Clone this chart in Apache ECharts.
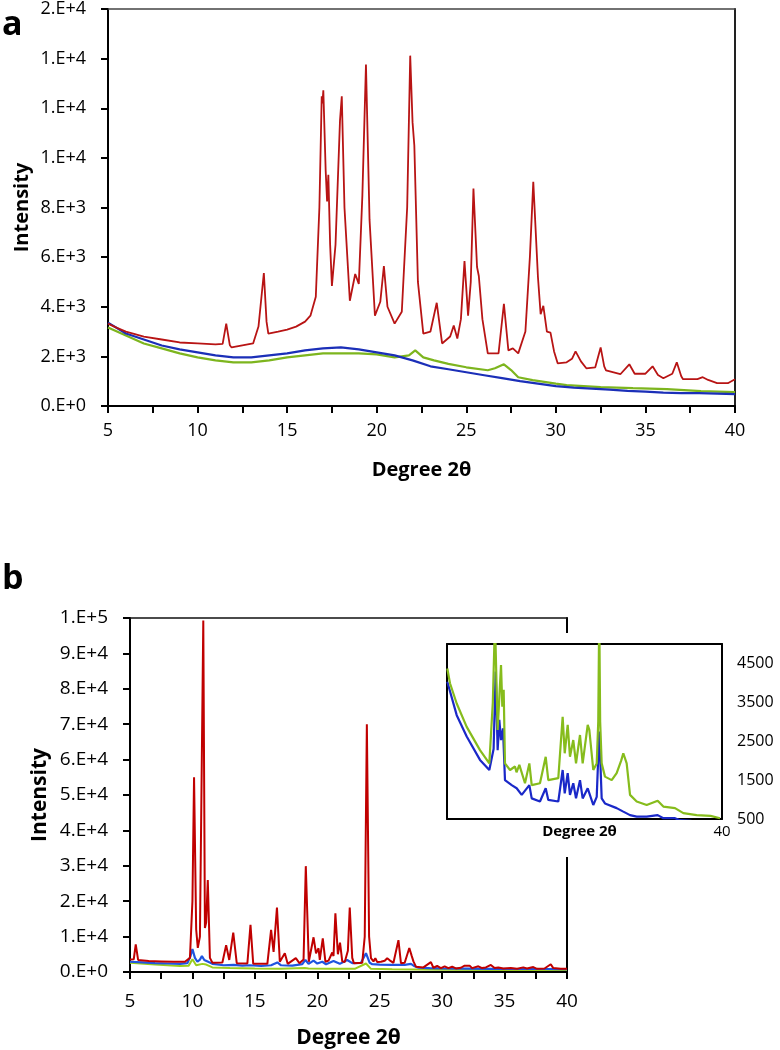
<!DOCTYPE html>
<html>
<head>
<meta charset="utf-8">
<script src="https://cdn.jsdelivr.net/npm/echarts@6/dist/echarts.min.js"></script>
<style>
html,body{margin:0;padding:0;background:#fff;}
#chart{width:780px;height:1050px;}
</style>
</head>
<body>
<div id="chart"></div>
<script>
// ---------- Panel a (Degree 2θ vs Intensity) ----------
const redA_x = [5.0,5.5,6.0,7.0,8.0,9.0,10.0,11.0,11.4,11.6,11.8,11.9,12.5,13.1,13.4,13.7,13.85,13.95,14.5,15.0,15.5,16.0,16.3,16.6,16.8,16.93,16.97,17.02,17.15,17.23,17.3,17.4,17.5,17.7,17.95,18.05,18.2,18.5,18.8,19.0,19.2,19.4,19.6,19.9,20.2,20.4,20.6,21.0,21.4,21.7,21.87,22.0,22.1,22.3,22.6,23.0,23.35,23.65,24.1,24.3,24.5,24.7,24.9,25.1,25.25,25.4,25.6,25.7,25.9,26.2,26.8,27.1,27.35,27.6,27.9,28.3,28.55,28.74,29.0,29.15,29.3,29.5,29.7,29.9,30.1,30.6,30.9,31.1,31.4,31.7,32.2,32.5,32.7,32.8,33.6,34.1,34.4,34.5,35.0,35.4,35.7,36.0,36.5,36.75,37.0,37.1,37.9,38.2,38.5,39.0,39.6,40.0];
const redA_y = [3320,3150,3000,2800,2680,2560,2520,2480,2500,3320,2450,2360,2440,2520,3200,5360,3400,2920,3000,3080,3200,3400,3640,4400,8000,12480,12200,12720,9500,8240,9320,6500,4840,6500,11500,12480,8000,4240,5320,4920,8500,13760,7500,3640,4200,5640,4000,3320,3800,8000,14120,11440,10500,5000,2920,3000,4160,2520,2800,3240,2720,3500,5840,3640,5000,8760,5600,5240,3500,2120,2120,4120,2240,2320,2120,3000,6000,9040,5200,3700,4040,3000,2960,2200,1720,1760,1900,2200,1800,1520,1560,2360,1600,1440,1280,1680,1300,1240,1300,1600,1250,1120,1300,1760,1200,1080,1080,1160,1050,920,920,1080];
const blueA_x = [5,6,7,8,9,10,11,12,13,14,15,16,17,18,19,20,21,22,23,24,25,26,27,28,29,30,31,32,33,34,35,36,37,38,39,40];
const blueA_y = [3360,2920,2680,2440,2280,2160,2040,1960,1960,2040,2120,2240,2320,2360,2280,2160,2040,1840,1600,1480,1360,1240,1120,1000,900,800,740,700,660,610,580,540,520,520,500,480];
const greenA_x = [5,6,7,8,9,10,11,12,13,14,15,16,17,18,19,20,21,21.8,22.15,22.6,23.2,24,25,26.2,26.6,27.1,27.5,27.9,28.7,30,30.6,32.5,34.3,36.2,38.1,40];
const greenA_y = [3160,2840,2520,2320,2120,1960,1840,1760,1760,1840,1960,2040,2120,2120,2120,2080,1960,2040,2240,1960,1840,1700,1560,1440,1520,1680,1450,1160,1040,900,840,760,720,680,600,560];

// ---------- Panel b ----------
const redB_x = [5.0,5.3,5.46,5.65,6.5,7.5,8.5,9.4,9.8,10.0,10.13,10.3,10.43,10.6,10.87,11.0,11.1,11.23,11.4,11.6,12.4,12.7,12.95,13.27,13.55,14.4,14.65,14.87,16.0,16.3,16.5,16.77,17.0,17.4,17.63,18.28,18.57,18.9,19.08,19.32,19.7,19.9,20.1,20.2,20.44,20.65,20.9,21.2,21.3,21.45,21.65,21.82,22.0,22.2,22.45,22.6,22.8,22.93,23.6,23.8,23.97,24.15,24.3,24.5,24.65,24.8,25.1,25.4,25.6,25.8,26.1,26.5,26.7,27.0,27.37,27.55,27.7,27.9,28.5,29.1,29.3,29.6,29.9,30.2,30.5,30.8,31.1,31.5,31.8,32.2,32.4,32.9,33.2,33.5,33.9,34.2,34.5,34.9,35.5,36.0,36.5,36.8,37.3,37.6,38.2,38.7,38.9,39.5,40.0];
const redB_y = [3500,3600,7800,3400,3100,3000,2900,2900,4000,20000,55000,12000,6800,10000,99300,12400,14000,26000,4000,2600,2700,7600,3400,11100,2500,2400,13300,2300,2300,11900,5700,18200,2900,5300,2300,3900,2500,3500,29900,2900,9800,5300,6700,3400,9500,2900,3200,5500,4500,16600,5000,8300,3000,2800,6000,18200,4000,2500,2600,10000,70000,10000,3900,3000,3900,2800,2900,3200,3900,3300,2600,9000,2500,2600,6800,4700,3000,1500,1300,2800,1200,1700,1100,1600,1100,1500,1000,1200,1800,1800,1100,1600,1100,1300,2000,1100,1300,1000,1100,900,1300,1000,1400,900,1000,2200,1100,900,900];
const blueB_x = [5,6,7,8,9,9.6,9.85,10.0,10.2,10.4,10.6,10.76,10.95,11.1,11.3,11.6,12.5,13.3,14,14.6,15.5,16.3,16.8,17.1,18,18.8,19.05,19.3,19.7,20.0,20.4,20.7,21.3,21.8,22.4,22.8,23.5,23.9,24.2,24.4,25,26,27,27.5,27.8,28.1,29,30,32,34,36,38,40];
const blueB_y = [2900,2700,2500,2400,2300,2500,4500,6500,4000,2900,3500,4500,3400,3900,2800,2300,1900,2000,1800,1900,1700,1900,2700,1900,1800,2200,3400,2300,3200,2400,2900,2200,3100,2300,3400,2500,2600,5300,2600,2200,2100,2000,2000,2300,1600,1200,1100,1000,950,900,850,850,800];
const greenB_x = [5,7,9,9.7,10.0,10.3,10.8,11.1,11.6,13,15,17,19,19.05,19.3,21,23,23.9,24.3,26,28,30,34,40];
const greenB_y = [2600,2100,1700,1800,3600,1900,2300,2100,1300,1100,1000,950,1100,1500,1000,900,900,2400,900,800,700,650,600,550];

// ---------- Inset of panel b ----------
const greenIn_x = [4.04,4.39,5.27,6.58,8.32,9.54,10.0,10.28,10.63,11.07,11.24,11.42,11.59,12.25,12.9,13.1,13.47,14.21,14.78,15.09,16.17,16.92,17.26,18.57,18.8,19.14,19.41,19.8,20.1,20.53,20.89,21.41,21.76,22.42,22.63,23.15,23.6,23.8,23.93,24.05,24.25,24.68,25.56,26.21,26.8,27.08,27.52,27.96,28.83,30.14,31.58,32.32,33.85,34.94,36.69,38.5,39.74];
const greenIn_y = [4370,3990,3470,2870,2270,1930,3500,5600,2790,4460,3390,3820,1930,1760,1850,1700,1890,1420,1930,1370,1420,2100,1500,1550,1500,3130,2190,2920,2100,2530,1930,2660,1930,2920,2790,1760,1930,3000,5800,3000,1930,1590,1500,1680,2000,2190,1930,1120,950,860,970,820,780,650,600,580,520];
const blueIn_x = [4.04,5.27,6.58,8.32,9.54,10.1,10.37,10.63,10.85,11.07,11.33,11.59,12.47,13.12,13.78,14.78,15.09,16.17,16.92,17.26,18.57,19.14,19.41,19.8,20.1,20.53,20.89,21.41,21.76,22.42,23.15,23.6,23.93,24.25,24.68,26.21,27.08,27.96,28.83,30.14,31.58,32.32,33.85,34.5,36,40];
const blueIn_y = [4030,3170,2620,2020,1760,2300,4290,2270,3050,2530,2830,1500,1370,1290,1120,1370,1030,950,1290,990,950,1760,1160,1680,1120,1420,1030,1500,1030,1290,860,1070,2750,1030,900,780,690,600,560,560,600,520,520,470,450,420];

const yTicksA = {min: 0, max: 16000, interval: 2000};
const yTicksB = {min: 0, max: 100000, interval: 10000};
const yTicksIn = {min: 500, max: 5000, interval: 500, labelStep: 1000};
const xTicks = {min: 5, max: 40, interval: 2.5, labelStep: 5};
const xTicksIn = {min: 4, max: 40, interval: 4};

const FONT = '"Open Sans", "Liberation Sans", sans-serif';
const zip = (xs, ys) => xs.map((x, i) => [x, ys[i]]);

function expFmt(v) {
  if (v === 0) return '0.E+0';
  let e = Math.floor(Math.log10(v) + 1e-9);
  let m = Math.round(v / Math.pow(10, e));
  if (m === 10) { m = 1; e += 1; }
  return m + '.E+' + e;
}

const lineOnly = (color, width, z) => ({
  axisLine: {show: true, onZero: false, lineStyle: {color: color, width: width}},
  axisTick: {show: false}, axisLabel: {show: false}, splitLine: {show: false}, z: z || 0
});
const ticks = () => ({show: true, inside: false, length: 7, lineStyle: {color: '#000', width: 2, opacity: 1}});

const chart = echarts.init(document.getElementById('chart'), null, {renderer: 'canvas'});

const option = {
  animation: false,
  backgroundColor: '#fff',
  grid: [
    {left: 108, top: 5, width: 627, height: 401},
    {left: 130, top: 618, width: 437, height: 354},
    {left: 447, top: 644, width: 275, height: 175}
  ],
  xAxis: [
    {gridIndex: 0, type: 'value', position: 'bottom', min: xTicks.min, max: xTicks.max, interval: xTicks.interval,
      name: 'Degree 2θ', nameLocation: 'middle', nameGap: 54, nameMoveOverlap: false,
      nameTextStyle: {fontFamily: FONT, fontWeight: 'bold', fontSize: 20, color: '#000'},
      axisLine: {show: true, onZero: false, lineStyle: {color: '#000', width: 2}},
      axisTick: ticks(),
      axisLabel: {fontFamily: FONT, fontSize: 18, color: '#000', margin: 16,
        formatter: v => (Math.abs(v % xTicks.labelStep) < 1e-9 ? String(v) : '')},
      splitLine: {show: false}},
    Object.assign({gridIndex: 0, type: 'value', position: 'top', min: xTicks.min, max: xTicks.max}, lineOnly('#444', 1.5)),
    {gridIndex: 1, type: 'value', position: 'bottom', min: xTicks.min, max: xTicks.max, interval: xTicks.interval,
      name: 'Degree 2θ', nameLocation: 'middle', nameGap: 56, nameMoveOverlap: false,
      nameTextStyle: {fontFamily: FONT, fontWeight: 'bold', fontSize: 21, color: '#000'},
      axisLine: {show: true, onZero: false, lineStyle: {color: '#000', width: 2}},
      axisTick: ticks(),
      axisLabel: {fontFamily: FONT, fontSize: 19, color: '#000', margin: 20,
        formatter: v => (Math.abs(v % xTicks.labelStep) < 1e-9 ? String(v) : '')},
      splitLine: {show: false}},
    Object.assign({gridIndex: 1, type: 'value', position: 'top', min: xTicks.min, max: xTicks.max}, lineOnly('#111', 1.5)),
    {gridIndex: 2, type: 'value', position: 'bottom', min: xTicksIn.min, max: xTicksIn.max, interval: xTicksIn.interval,
      name: 'Degree 2θ', nameLocation: 'middle', nameGap: 5, nameMoveOverlap: false,
      nameTextStyle: {fontFamily: FONT, fontWeight: 'bold', fontSize: 15, color: '#000', padding: [0, 10, 0, 0]},
      axisLine: {show: true, onZero: false, lineStyle: {color: '#000', width: 2}},
      axisTick: {show: false},
      axisLabel: {fontFamily: FONT, fontSize: 15, color: '#000', margin: 5, showMaxLabel: true,
        formatter: v => (v === xTicksIn.max ? String(v) : '')},
      splitLine: {show: false}, z: 10},
    Object.assign({gridIndex: 2, type: 'value', position: 'top', min: xTicksIn.min, max: xTicksIn.max}, lineOnly('#000', 2, 10))
  ],
  yAxis: [
    {gridIndex: 0, type: 'value', position: 'left', min: yTicksA.min, max: yTicksA.max, interval: yTicksA.interval,
      name: 'Intensity', nameLocation: 'middle', nameGap: 76, nameMoveOverlap: false,
      nameTextStyle: {fontFamily: FONT, fontWeight: 'bold', fontSize: 20, color: '#000'},
      axisLine: {show: true, onZero: false, lineStyle: {color: '#000', width: 2}},
      axisTick: ticks(),
      axisLabel: {fontFamily: FONT, fontSize: 18, color: '#000', margin: 22, formatter: expFmt},
      splitLine: {show: false}},
    Object.assign({gridIndex: 0, type: 'value', position: 'right', min: yTicksA.min, max: yTicksA.max}, lineOnly('#222', 2)),
    {gridIndex: 1, type: 'value', position: 'left', min: yTicksB.min, max: yTicksB.max, interval: yTicksB.interval,
      name: 'Intensity', nameLocation: 'middle', nameGap: 79, nameMoveOverlap: false,
      nameTextStyle: {fontFamily: FONT, fontWeight: 'bold', fontSize: 21, color: '#000'},
      axisLine: {show: true, onZero: false, lineStyle: {color: '#000', width: 2}},
      axisTick: ticks(),
      axisLabel: {fontFamily: FONT, fontSize: 19, color: '#000', margin: 22, formatter: expFmt},
      splitLine: {show: false}},
    Object.assign({gridIndex: 1, type: 'value', position: 'right', min: yTicksB.min, max: yTicksB.max}, lineOnly('#000', 2)),
    Object.assign({gridIndex: 2, type: 'value', position: 'left', min: yTicksIn.min, max: yTicksIn.max}, lineOnly('#000', 2, 10)),
    {gridIndex: 2, type: 'value', position: 'right', min: yTicksIn.min, max: yTicksIn.max, interval: yTicksIn.interval,
      axisLine: {show: true, onZero: false, lineStyle: {color: '#000', width: 2}},
      axisTick: {show: false},
      axisLabel: {fontFamily: FONT, fontSize: 16, color: '#000', margin: 15, showMaxLabel: false,
        formatter: v => ((v - yTicksIn.min) % yTicksIn.labelStep === 0 && v < yTicksIn.max ? String(v) : '')},
      splitLine: {show: false}, z: 10}
  ],
  graphic: [
    {type: 'text', left: 2, top: 8, z: 20, style: {text: 'a', font: 'bold 34px ' + FONT, fill: '#000'}},
    {type: 'text', left: 2, top: 562, z: 20, style: {text: 'b', font: 'bold 34px ' + FONT, fill: '#000'}},
    {type: 'rect', z: 5, shape: {x: 560, y: 633, width: 14, height: 224}, style: {fill: '#fff'}}
  ],
  series: [
    {type: 'line', xAxisIndex: 0, yAxisIndex: 0, data: zip(greenA_x, greenA_y), showSymbol: false, lineStyle: {color: '#7DB51E', width: 2.2}, z: 2},
    {type: 'line', xAxisIndex: 0, yAxisIndex: 0, data: zip(blueA_x, blueA_y), showSymbol: false, lineStyle: {color: '#1B2FB8', width: 2.2}, z: 3},
    {type: 'line', xAxisIndex: 0, yAxisIndex: 0, data: zip(redA_x, redA_y), showSymbol: false, lineStyle: {color: '#B81414', width: 1.8}, z: 4},
    {type: 'line', xAxisIndex: 2, yAxisIndex: 2, data: zip(greenB_x, greenB_y), showSymbol: false, lineStyle: {color: '#9ACD1E', width: 2}, z: 2},
    {type: 'line', xAxisIndex: 2, yAxisIndex: 2, data: zip(blueB_x, blueB_y), showSymbol: false, lineStyle: {color: '#1F55E0', width: 2.2}, z: 3},
    {type: 'line', xAxisIndex: 2, yAxisIndex: 2, data: zip(redB_x, redB_y), showSymbol: false, lineStyle: {color: '#C00000', width: 2}, z: 4},
    {type: 'line', xAxisIndex: 4, yAxisIndex: 5, data: zip(blueIn_x, blueIn_y), showSymbol: false, clip: true, lineStyle: {color: '#1A28C8', width: 2.2}, z: 11},
    {type: 'line', xAxisIndex: 4, yAxisIndex: 5, data: zip(greenIn_x, greenIn_y), showSymbol: false, clip: true, lineStyle: {color: '#86BC1C', width: 2.2}, z: 12}
  ]
};
chart.setOption(option);
</script>
</body>
</html>
